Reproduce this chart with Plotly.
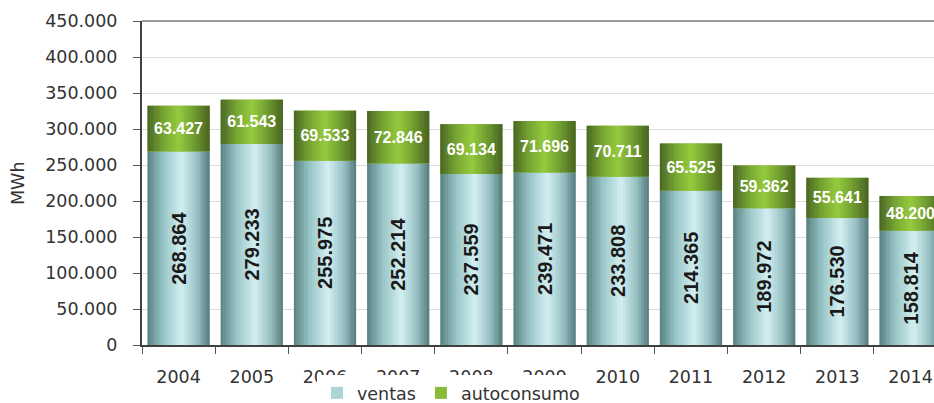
import plotly.graph_objects as go

years = ["2004", "2005", "2006", "2007", "2008", "2009", "2010", "2011", "2012", "2013", "2014"]
ventas = [268864, 279233, 255975, 252214, 237559, 239471, 233808, 214365, 189972, 176530, 158814]
autoconsumo = [63427, 61543, 69533, 72846, 69134, 71696, 70711, 65525, 59362, 55641, 48200]

TEAL_STOPS = [(0.0, (88, 128, 128)), (0.25, (150, 196, 198)), (0.55, (212, 239, 241)), (0.8, (150, 192, 194)), (1.0, (84, 122, 122))]
GREEN_STOPS = [(0.0, (74, 102, 36)), (0.25, (118, 164, 50)), (0.5, (150, 203, 62)), (0.75, (112, 156, 48)), (1.0, (70, 98, 34))]


def interp(stops, t):
    for (t0, c0), (t1, c1) in zip(stops[:-1], stops[1:]):
        if t0 <= t <= t1:
            f = (t - t0) / (t1 - t0) if t1 > t0 else 0
            c = [round(a + (b - a) * f) for a, b in zip(c0, c1)]
            return "rgb(%d,%d,%d)" % tuple(c)
    c = stops[-1][1]
    return "rgb(%d,%d,%d)" % c


N = 24
BW = 0.85
FONT = "DejaVu Sans"
PLOT_W = 792
PLOT_H = 324

fig = go.Figure()

series = [
    ("ventas", ventas, None, TEAL_STOPS, 0.35),
    ("autoconsumo", autoconsumo, ventas, GREEN_STOPS, 0.4),
]

for name, vals, base, stops, legt in series:
    fig.add_bar(x=years, y=vals, base=base, width=BW, marker_color=interp(stops, 0.4),
                marker_line_width=0, showlegend=False, hoverinfo="skip", legendgroup=name)
    leg_i = int(legt * N)
    for i in range(N):
        t = (i + 0.5) / N
        fig.add_bar(
            x=years, y=vals, base=base,
            width=BW / N * 1.15 if i < N - 1 else BW / N,
            offset=-BW / 2 + i * BW / N,
            marker_color=interp(stops, t), marker_line_width=0,
            name=name, legendgroup=name, showlegend=(i == leg_i),
            hoverinfo="skip",
        )

fig.add_bar(
    x=years, y=ventas, width=BW, marker_color="rgba(0,0,0,0)", marker_line_width=0,
    texttemplate="%{y:,.0f}", textposition="inside", insidetextanchor="middle",
    textangle=-90, textfont=dict(family="Liberation Sans", size=20, color="#1a1a1a", weight="bold"),
    showlegend=False, hoverinfo="skip",
)
fig.add_bar(
    x=years, y=autoconsumo, base=ventas, width=BW, marker_color="rgba(0,0,0,0)", marker_line_width=0,
    texttemplate="%{y:,.0f}", textposition="inside", insidetextanchor="middle",
    textangle=0, textfont=dict(family="Liberation Sans", size=16, color="white", weight="bold"),
    showlegend=False, hoverinfo="skip",
)

fig.update_layout(
    width=934, height=403,
    margin=dict(l=142, r=0, t=21, b=58, autoexpand=False),
    paper_bgcolor="white", plot_bgcolor="white",
    barmode="overlay",
    separators=",.",
    font=dict(family=FONT, size=17, color="#333333"),
    xaxis=dict(
        type="category", range=[-0.5, 10.32], tickson="boundaries",
        ticks="outside", ticklen=7, tickcolor="#555555", tickwidth=1,
        showline=True, linecolor="#404040", linewidth=2, showgrid=False,
        tickfont=dict(family=FONT, size=17.5, color="#333333"),
        ticklabelstandoff=15, automargin=False,
    ),
    yaxis=dict(
        range=[0, 450000], dtick=50000, tickformat=",.0f",
        showgrid=True, gridcolor="#dcdcdc", gridwidth=1,
        showline=True, linecolor="#404040", linewidth=2,
        ticks="outside", ticklen=7, tickcolor="#555555",
        tickfont=dict(family=FONT, size=17.5, color="#333333"),
        ticklabelstandoff=12, zeroline=False, automargin=False,
    ),
    legend=dict(
        orientation="h", xref="paper", yref="paper",
        x=(317 - 142) / PLOT_W, xanchor="left", y=(345 - 411) / PLOT_H, yanchor="bottom",
        bgcolor="white", font=dict(family=FONT, size=17.5, color="#333333"),
        traceorder="normal",
    ),
    showlegend=True,
)

fig.add_shape(type="line", xref="paper", yref="paper", x0=0, x1=1, y0=1, y1=1,
              line=dict(color="#999999", width=2))
fig.add_annotation(text="MWh", xref="paper", yref="paper", x=-124 / PLOT_W, y=0.5,
                   textangle=-90, showarrow=False, xanchor="center", yanchor="middle",
                   font=dict(family=FONT, size=17.5, color="#333333"))

fig.write_html("out.html", config={"displayModeBar": False},
               post_script="document.body.style.margin='0';document.body.style.overflow='hidden';")
